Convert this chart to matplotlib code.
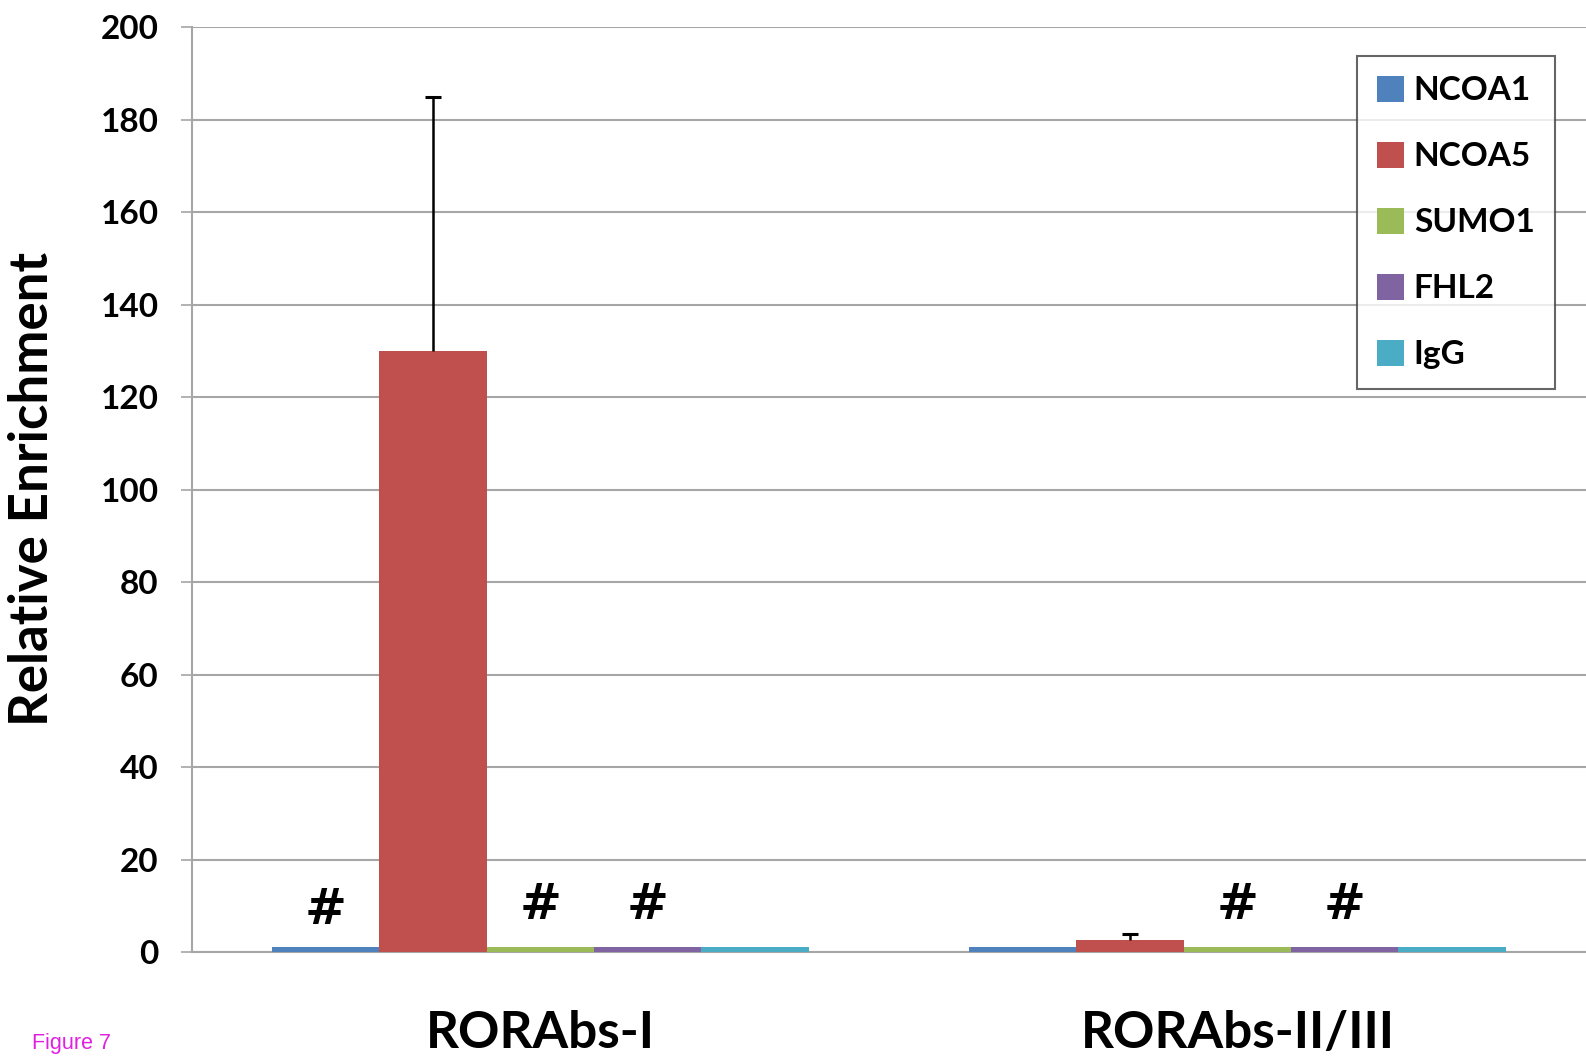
import matplotlib
matplotlib.use("Agg")
import matplotlib.pyplot as plt
import numpy as np

categories = ["RORAbs-I", "RORAbs-II/III"]
series = ["NCOA1", "NCOA5", "SUMO1", "FHL2", "IgG"]
values = {
    "NCOA1": [1.0, 1.0],
    "NCOA5": [130.0, 2.5],
    "SUMO1": [1.0, 1.0],
    "FHL2": [1.0, 1.0],
    "IgG": [1.0, 1.0],
}
errors_up = {
    "NCOA5": [55.0, 1.5],
}
# significance marks: (category index, series name, y position)
marks = [(0, "NCOA1", 4.0), (0, "SUMO1", 5.0), (0, "FHL2", 5.0),
         (1, "SUMO1", 5.0), (1, "FHL2", 5.0)]
yticks = [0, 20, 40, 60, 80, 100, 120, 140, 160, 180, 200]
colors = ["#4F81BD", "#C0504D", "#9BBB59", "#8064A2", "#4BACC6"]

plt.rcParams['font.family'] = ['Lato', 'DejaVu Sans']

fig = plt.figure(figsize=(15.86, 10.63), dpi=100)
ax = fig.add_axes([0.121, 0.1044, 0.879, 0.8698])

x = np.arange(len(categories))
bw = 0.154
n = len(series)
offsets = (np.arange(n) - (n - 1) / 2) * bw
for i, s in enumerate(series):
    ax.bar(x + offsets[i], values[s], width=bw, color=colors[i], label=s, zorder=3)
    if s in errors_up:
        up = np.array(errors_up[s])
        vals = np.array(values[s])
        ax.errorbar(x + offsets[i], vals, yerr=[np.zeros(len(up)), up],
                    fmt='none', ecolor='black', elinewidth=1.8, capsize=0,
                    zorder=4)
        ax.plot(x + offsets[i], vals + up, linestyle='none', marker='_',
                markersize=12, markeredgewidth=2.2, color='black', zorder=4)

for ci, s, yv in marks:
    si = series.index(s)
    ax.text(x[ci] + offsets[si], yv, "#", ha='center', va='bottom',
            fontsize=36, fontweight='heavy', color='black', zorder=5,
            family=['DejaVu Sans'])

ax.set_xlim(-0.5, 1.5)
ax.set_ylim(0, 200)
ax.set_yticks(yticks)
ax.set_yticklabels([str(t) for t in yticks], fontsize=24, fontweight='bold')
ax.yaxis.grid(True, color='#A6A6A6', linewidth=1.5, zorder=0)
ax.set_axisbelow(True)
ax.set_xticks(x)
ax.set_xticklabels(categories, fontsize=37, fontweight='bold')
ax.tick_params(axis='x', length=0, pad=42)
ax.tick_params(axis='y', length=8, width=1.2, color='#A6A6A6', pad=16)
for sp in ['top', 'right']:
    ax.spines[sp].set_visible(False)
ax.spines['left'].set_color('#A6A6A6')
ax.spines['left'].set_linewidth(1.5)
ax.spines['bottom'].set_color('#A6A6A6')
ax.spines['bottom'].set_linewidth(1.5)

fig.text(0.036, 0.54, "Relative Enrichment", rotation=90, ha='right', va='center',
         fontsize=38, fontweight='bold')
fig.text(0.02, 0.018, "Figure 7", color='#E020E0', fontsize=15.5, ha='left', va='center',
         family=['Liberation Sans', 'DejaVu Sans'])

leg = ax.legend(loc='upper right', bbox_to_anchor=(0.9775, 0.969),
                prop={'weight': 'bold', 'size': 24}, frameon=True, fancybox=False,
                edgecolor='#404040', handlelength=0.8, handleheight=0.8,
                handletextpad=0.3, labelspacing=1.1, borderpad=0.6,
                borderaxespad=0)
leg.get_frame().set_linewidth(1.5)

fig.savefig("out.png", dpi=100)
